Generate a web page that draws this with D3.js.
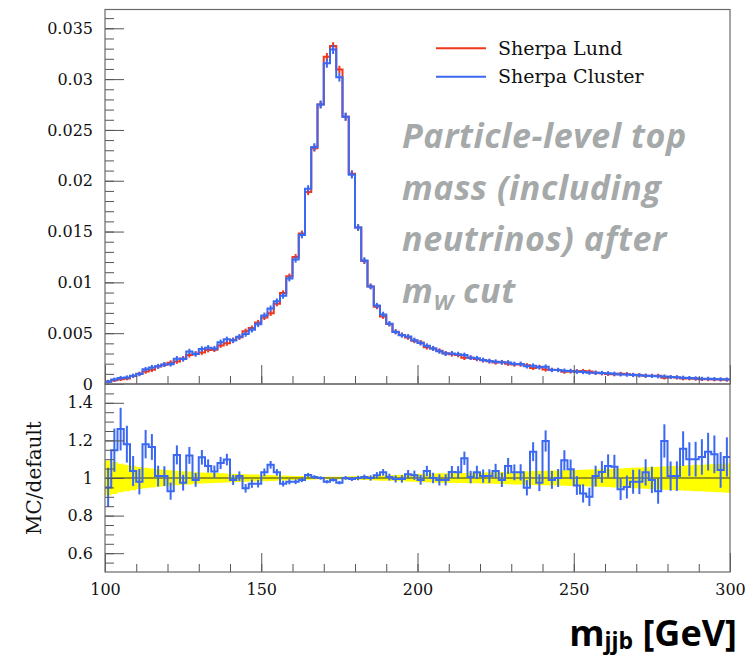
<!DOCTYPE html>
<html>
<head>
<meta charset="utf-8">
<script src="https://cdn.jsdelivr.net/npm/d3@7"></script>
<style>
  body { margin: 0; background: #fff; }
  svg { display: block; }
</style>
</head>
<body>
<svg id="chart" width="756" height="658"></svg>
<script>
// Particle-level m_jjb, 2 GeV bins from 100 to 300 GeV
const binEdges = d3.range(100, 302, 2);

// Sherpa Lund (default) normalised distribution, one value per bin
const lund = [
  0.00024, 0.00038, 0.00047, 0.00055, 0.00078, 0.00100, 0.00122, 0.00140, 0.00172, 0.00190,
  0.00210, 0.00222, 0.00252, 0.00285, 0.00298, 0.00310, 0.00335, 0.00338, 0.00380, 0.00400,
  0.00432, 0.00460, 0.00520, 0.00550, 0.00605, 0.00655, 0.00695, 0.00790, 0.00895, 0.01060,
  0.01250, 0.01480, 0.01890, 0.02320, 0.02750, 0.03220, 0.03325, 0.03095, 0.02630, 0.02070,
  0.01540, 0.01210, 0.00960, 0.00760, 0.00665, 0.00590, 0.00515, 0.00483, 0.00458, 0.00425,
  0.00408, 0.00362, 0.00350, 0.00326, 0.00302, 0.00292, 0.00285, 0.00258, 0.00258, 0.00246,
  0.00234, 0.00224, 0.00212, 0.00215, 0.00199, 0.00192, 0.00192, 0.00184, 0.00158, 0.00168,
  0.00142, 0.00139, 0.00138, 0.00120, 0.00123, 0.00126, 0.00128, 0.00123, 0.00110, 0.00105,
  0.00099, 0.00095, 0.00100, 0.00097, 0.00090, 0.00087, 0.00080, 0.00080, 0.00081, 0.00062,
  0.00068, 0.00065, 0.00054, 0.00054, 0.00051, 0.00047, 0.00046, 0.00044, 0.00044, 0.00041
];

// Relative statistical uncertainty of the Lund sample (yellow band)
const lundRelErr = [
  0.093, 0.085, 0.076, 0.070, 0.065, 0.058, 0.054, 0.050, 0.047, 0.044,
  0.041, 0.038, 0.036, 0.034, 0.031, 0.029, 0.028, 0.026, 0.025, 0.024,
  0.023, 0.021, 0.020, 0.019, 0.018, 0.017, 0.016, 0.014, 0.013, 0.012,
  0.011, 0.010, 0.009, 0.008, 0.007, 0.007, 0.007, 0.007, 0.008, 0.009,
  0.010, 0.011, 0.012, 0.013, 0.014, 0.015, 0.016, 0.017, 0.018, 0.020,
  0.022, 0.023, 0.024, 0.025, 0.025, 0.026, 0.027, 0.027, 0.028, 0.028,
  0.029, 0.030, 0.031, 0.032, 0.033, 0.034, 0.035, 0.036, 0.037, 0.038,
  0.039, 0.040, 0.040, 0.041, 0.042, 0.043, 0.044, 0.045, 0.046, 0.047,
  0.048, 0.050, 0.051, 0.053, 0.054, 0.056, 0.057, 0.059, 0.060, 0.062,
  0.064, 0.065, 0.067, 0.068, 0.070, 0.071, 0.073, 0.074, 0.076, 0.078
];

// Sherpa Cluster / Sherpa Lund, one value per bin
const ratio = [
  0.950, 1.148, 1.260, 1.180, 1.037, 0.980, 1.180, 1.165, 1.010, 1.010,
  0.930, 1.123, 0.975, 1.120, 0.990, 1.110, 1.064, 1.034, 1.080, 1.098,
  0.990, 1.010, 0.945, 0.970, 0.970, 1.030, 1.070, 1.030, 0.970, 0.980,
  0.980, 0.990, 1.016, 1.005, 1.000, 0.980, 0.990, 0.975, 1.000, 0.995,
  1.000, 1.005, 1.000, 1.015, 1.030, 1.005, 0.995, 0.995, 1.020, 1.015,
  0.990, 1.037, 1.000, 0.990, 0.990, 1.032, 1.030, 1.105, 1.005, 1.030,
  1.010, 1.010, 1.037, 0.990, 1.064, 1.030, 1.030, 0.948, 1.140, 0.975,
  1.197, 0.990, 1.000, 1.094, 1.046, 0.960, 0.918, 0.900, 1.010, 1.032,
  1.064, 1.060, 0.940, 0.952, 0.980, 0.980, 1.030, 0.990, 0.930, 1.197,
  1.010, 1.010, 1.156, 1.100, 1.100, 1.112, 1.140, 1.126, 1.043, 1.112
];

// Relative statistical uncertainty of the Cluster sample
const clusterRelErr = [
  0.110, 0.100, 0.090, 0.083, 0.077, 0.069, 0.064, 0.059, 0.055, 0.052,
  0.049, 0.045, 0.043, 0.040, 0.037, 0.035, 0.033, 0.031, 0.030, 0.028,
  0.027, 0.025, 0.024, 0.023, 0.021, 0.020, 0.019, 0.017, 0.016, 0.014,
  0.013, 0.012, 0.011, 0.010, 0.009, 0.009, 0.009, 0.009, 0.010, 0.011,
  0.012, 0.013, 0.014, 0.016, 0.017, 0.018, 0.019, 0.020, 0.022, 0.024,
  0.026, 0.027, 0.028, 0.030, 0.030, 0.031, 0.032, 0.032, 0.033, 0.034,
  0.035, 0.036, 0.037, 0.038, 0.040, 0.041, 0.042, 0.043, 0.044, 0.046,
  0.047, 0.048, 0.048, 0.049, 0.050, 0.052, 0.053, 0.054, 0.055, 0.056,
  0.058, 0.060, 0.061, 0.064, 0.065, 0.067, 0.068, 0.071, 0.072, 0.074,
  0.077, 0.078, 0.080, 0.082, 0.084, 0.085, 0.088, 0.089, 0.091, 0.094
];

const cluster = lund.map((v, i) => v * ratio[i]);

const seriesNames = ["Sherpa Lund", "Sherpa Cluster"];
const seriesColors = ["#f0361c", "#3a68f2"];

const topMajorTicks = [0, 0.005, 0.01, 0.015, 0.02, 0.025, 0.03, 0.035];
const topMinorTicks = d3.range(0.001, 0.0365, 0.001);
const ratioMajorTicks = [0.6, 0.8, 1, 1.2, 1.4];
const ratioMinorTicks = d3.range(0.55, 1.5, 0.05);
const xMajorTicks = [100, 150, 200, 250, 300];
const xMinorTicks = d3.range(110, 300, 10);

const annotation = ["Particle-level top", "mass (including", "neutrinos) after"];

// ---- layout ----
const L = 105, R = 730, T = 9.5, MID = 384, B = 572;
const svg = d3.select("#chart");
svg.append("rect").attr("width", 756).attr("height", 658).attr("fill", "#fff");

const x = d3.scaleLinear().domain([100, 300]).range([L, R]);
const yTop = d3.scaleLinear().domain([0, 0.03685]).range([MID, T]);
const yRat = d3.scaleLinear().domain([0.5, 1.5]).range([B, MID]);

const tickFont = "'DejaVu Serif', serif";
const sansBold = "'Open Sans', 'Noto Sans', sans-serif";
const tickColor = "#555";

function stepPoints(vals) {
  return vals.flatMap((v, i) => [[binEdges[i], v], [binEdges[i + 1], v]]);
}

// ---- ratio panel ----
const band = d3.area()
  .x(d => x(d[0]))
  .y0(d => yRat(1 - d[1]))
  .y1(d => yRat(1 + d[1]));
svg.append("path")
  .attr("d", band(stepPoints(lundRelErr)))
  .attr("fill", "#ffff00");

svg.append("line")
  .attr("x1", L).attr("x2", R)
  .attr("y1", yRat(1)).attr("y2", yRat(1))
  .attr("stroke", "#333").attr("stroke-width", 1);

const ratioLine = d3.line().x(d => x(d[0])).y(d => yRat(d[1]));
const ratioG = svg.append("g");
ratioG.selectAll("line.err")
  .data(ratio)
  .join("line")
  .attr("class", "err")
  .attr("x1", (d, i) => x((binEdges[i] + binEdges[i + 1]) / 2))
  .attr("x2", (d, i) => x((binEdges[i] + binEdges[i + 1]) / 2))
  .attr("y1", (d, i) => yRat(d * (1 - clusterRelErr[i])))
  .attr("y2", (d, i) => yRat(d * (1 + clusterRelErr[i])))
  .attr("stroke", seriesColors[1]).attr("stroke-width", 2);
ratioG.append("path")
  .attr("d", ratioLine(stepPoints(ratio)))
  .attr("fill", "none")
  .attr("stroke", seriesColors[1]).attr("stroke-width", 2);

// ---- main panel ----
const topLine = d3.line().x(d => x(d[0])).y(d => yTop(d[1]));
[[lund, lundRelErr], [cluster, clusterRelErr]].forEach(([vals, errs], s) => {
  const g = svg.append("g");
  g.append("path")
    .attr("d", topLine(stepPoints(vals)))
    .attr("fill", "none")
    .attr("stroke", seriesColors[s]).attr("stroke-width", 2);
  g.selectAll("line")
    .data(vals)
    .join("line")
    .attr("x1", (d, i) => x((binEdges[i] + binEdges[i + 1]) / 2))
    .attr("x2", (d, i) => x((binEdges[i] + binEdges[i + 1]) / 2))
    .attr("y1", (d, i) => yTop(d * (1 - errs[i])) + 1.5)
    .attr("y2", (d, i) => yTop(d * (1 + errs[i])) - 1.5)
    .attr("stroke", seriesColors[s]).attr("stroke-width", 2);
});

// ---- axes ----
function styleAxis(g) {
  g.select(".domain").remove();
  g.selectAll(".tick line").attr("stroke", tickColor);
  g.selectAll(".tick text")
    .attr("fill", "#111")
    .style("font-family", tickFont)
    .style("font-size", "16px");
}

svg.append("g").attr("transform", `translate(${L},0)`)
  .call(d3.axisLeft(yTop).tickValues(topMinorTicks).tickSize(-9).tickFormat(""))
  .call(styleAxis);
svg.append("g").attr("transform", `translate(${L},0)`)
  .call(d3.axisLeft(yTop).tickValues(topMajorTicks).tickSize(-19).tickPadding(12)
    .tickFormat(d3.format("~g")))
  .call(styleAxis);

svg.append("g").attr("transform", `translate(${L},0)`)
  .call(d3.axisLeft(yRat).tickValues(ratioMinorTicks).tickSize(-9).tickFormat(""))
  .call(styleAxis);
svg.append("g").attr("transform", `translate(${L},0)`)
  .call(d3.axisLeft(yRat).tickValues(ratioMajorTicks).tickSize(-19).tickPadding(12)
    .tickFormat(d3.format("~g")))
  .call(styleAxis);

[MID, B].forEach(yPos => {
  svg.append("g").attr("transform", `translate(0,${yPos})`)
    .call(d3.axisBottom(x).tickValues(xMinorTicks).tickSize(-8).tickFormat(""))
    .call(styleAxis);
  const major = svg.append("g").attr("transform", `translate(0,${yPos})`)
    .call(d3.axisBottom(x).tickValues(xMajorTicks).tickSize(-19).tickPadding(14)
      .tickFormat(yPos === B ? d3.format("d") : ""))
    .call(styleAxis);
  major.selectAll(".tick text").attr("dy", "0.71em").attr("y", 12);
});

// frames
[[T, MID], [MID, B]].forEach(([y0, y1]) => {
  svg.append("rect")
    .attr("x", L).attr("y", y0)
    .attr("width", R - L).attr("height", y1 - y0)
    .attr("fill", "none").attr("stroke", "#6a6a6a").attr("stroke-width", 1.2);
});

// ---- axis titles ----
svg.append("text")
  .attr("transform", `translate(41,478) rotate(-90)`)
  .attr("text-anchor", "middle")
  .style("font-family", tickFont).style("font-size", "20px")
  .attr("fill", "#111")
  .text("MC/default");

const xTitle = svg.append("text")
  .attr("x", 737).attr("y", 646)
  .attr("text-anchor", "end")
  .style("font-family", sansBold).style("font-weight", "700")
  .attr("fill", "#000");
xTitle.append("tspan").style("font-size", "36px").text("m");
xTitle.append("tspan").style("font-size", "23px").attr("dy", 3).text("jjb");
xTitle.append("tspan").style("font-size", "36px").attr("dy", -3).text(" [GeV]");

// ---- legend ----
const legend = svg.append("g");
seriesNames.forEach((name, i) => {
  const yy = 48.3 + i * 28.4;
  legend.append("line")
    .attr("x1", 436).attr("x2", 486).attr("y1", yy).attr("y2", yy)
    .attr("stroke", seriesColors[i]).attr("stroke-width", 2);
  legend.append("text")
    .attr("x", 498).attr("y", yy + 6.5)
    .style("font-family", tickFont).style("font-size", "19px")
    .attr("fill", "#111")
    .text(name);
});

// ---- annotation ----
const note = svg.append("g")
  .style("font-family", sansBold)
  .style("font-weight", "700").style("font-style", "italic")
  .style("font-size", "34px")
  .style("letter-spacing", "0.6px")
  .attr("fill", "#a6a9a9");
annotation.forEach((line, i) => {
  note.append("text").attr("x", 402).attr("y", 148 + i * 51.7).text(line);
});
const last = note.append("text").attr("x", 402).attr("y", 148 + 3 * 51.7);
last.append("tspan").text("m");
last.append("tspan").style("font-size", "22px").attr("dy", 7).text("W");
last.append("tspan").attr("dy", -7).text(" cut");
</script>
</body>
</html>
